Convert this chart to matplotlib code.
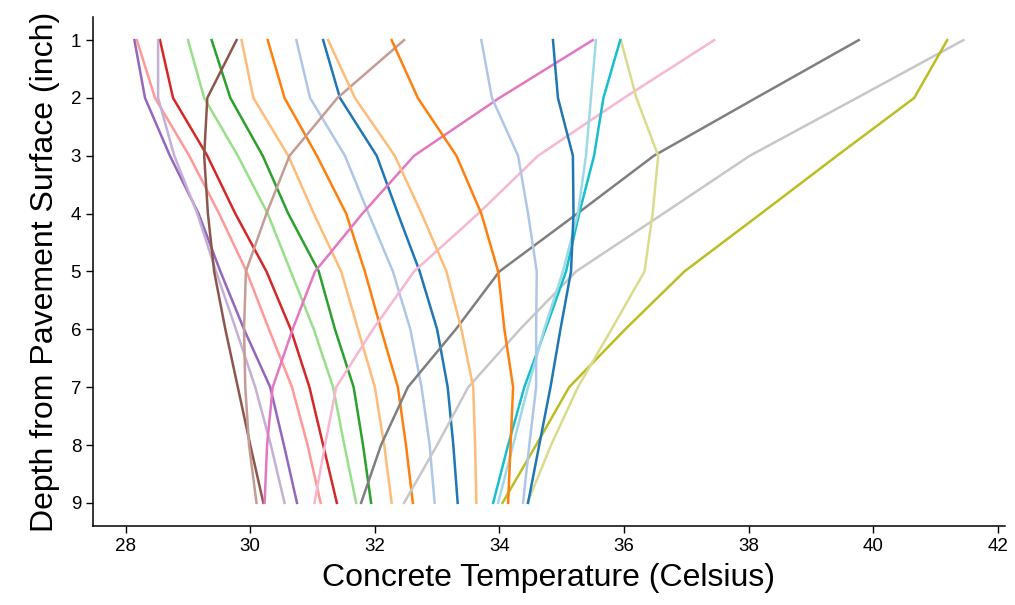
import matplotlib
matplotlib.use("Agg")
import matplotlib.pyplot as plt

plt.rcParams['font.family'] = ['Liberation Sans', 'DejaVu Sans']

depths = [1, 2, 3, 4, 5, 6, 7, 8, 9]

# Hourly temperature profiles (Celsius) at each depth, hour 0 .. hour 23
h00 = [31.17, 31.44, 32.03, 32.37, 32.72, 33.00, 33.17, 33.26, 33.33]
h01 = [30.74, 30.96, 31.52, 31.90, 32.29, 32.57, 32.75, 32.88, 32.96]
h02 = [30.28, 30.55, 31.07, 31.54, 31.84, 32.10, 32.37, 32.50, 32.61]
h03 = [29.86, 30.05, 30.61, 31.02, 31.46, 31.73, 32.00, 32.15, 32.27]
h04 = [29.38, 29.68, 30.20, 30.61, 31.10, 31.36, 31.66, 31.81, 31.94]
h05 = [29.00, 29.26, 29.80, 30.28, 30.65, 31.02, 31.33, 31.51, 31.70]
h06 = [28.55, 28.76, 29.31, 29.76, 30.26, 30.65, 30.95, 31.17, 31.39]
h07 = [28.18, 28.47, 29.02, 29.50, 29.94, 30.30, 30.67, 30.92, 31.13]
h08 = [28.14, 28.31, 28.71, 29.17, 29.52, 29.90, 30.32, 30.54, 30.75]
h09 = [28.52, 28.52, 28.78, 29.15, 29.45, 29.77, 30.08, 30.33, 30.55]
h10 = [29.78, 29.31, 29.26, 29.32, 29.42, 29.60, 29.80, 30.00, 30.21]
h11 = [32.47, 31.40, 30.63, 30.26, 29.93, 29.90, 29.92, 29.98, 30.10]
h12 = [35.50, 34.00, 32.63, 31.80, 31.04, 30.68, 30.36, 30.27, 30.23]
h13 = [37.45, 36.00, 34.62, 33.66, 32.63, 31.97, 31.38, 31.20, 31.03]
h14 = [39.77, 38.12, 36.48, 35.25, 34.00, 33.30, 32.53, 32.10, 31.78]
h15 = [41.45, 39.74, 38.02, 36.63, 35.23, 34.33, 33.50, 33.00, 32.47]
h16 = [41.19, 40.66, 39.42, 38.20, 36.97, 36.02, 35.12, 34.59, 34.05]
h17 = [35.95, 36.20, 36.55, 36.46, 36.33, 35.80, 35.26, 34.83, 34.45]
h18 = [35.94, 35.67, 35.52, 35.28, 35.07, 34.74, 34.40, 34.14, 33.90]
h19 = [35.55, 35.47, 35.39, 35.26, 35.02, 34.72, 34.46, 34.22, 33.98]
h20 = [34.86, 34.94, 35.18, 35.19, 35.15, 34.98, 34.82, 34.64, 34.46]
h21 = [33.71, 33.88, 34.30, 34.46, 34.60, 34.59, 34.59, 34.48, 34.38]
h22 = [32.27, 32.69, 33.31, 33.71, 33.98, 34.08, 34.22, 34.18, 34.14]
h23 = [31.25, 31.68, 32.32, 32.75, 33.15, 33.39, 33.58, 33.61, 33.63]

profiles = [h00, h01, h02, h03, h04, h05, h06, h07, h08, h09, h10, h11,
            h12, h13, h14, h15, h16, h17, h18, h19, h20, h21, h22, h23]

fig = plt.figure(figsize=(10.15, 6.05), dpi=100)
ax = fig.add_axes([0.0916, 0.1306, 0.8984, 0.8414])

palette = plt.get_cmap('tab20').colors
for i, temps in enumerate(profiles):
    ax.plot(temps, depths, color=palette[i % 20], linewidth=1.8)

ax.invert_yaxis()
ax.set_xticks([28, 30, 32, 34, 36, 38, 40, 42])
ax.set_yticks(depths)
ax.tick_params(axis='both', labelsize=13.5, length=5, width=1, direction='out')
for side in ('top', 'right'):
    ax.spines[side].set_visible(False)
for side in ('left', 'bottom'):
    ax.spines[side].set_linewidth(1.1)

ax.set_xlabel('Concrete Temperature (Celsius)', fontsize=23, labelpad=6)
ax.set_ylabel('Depth from Pavement Surface (inch)', fontsize=23, labelpad=8)

fig.savefig('out.png', dpi=100)
